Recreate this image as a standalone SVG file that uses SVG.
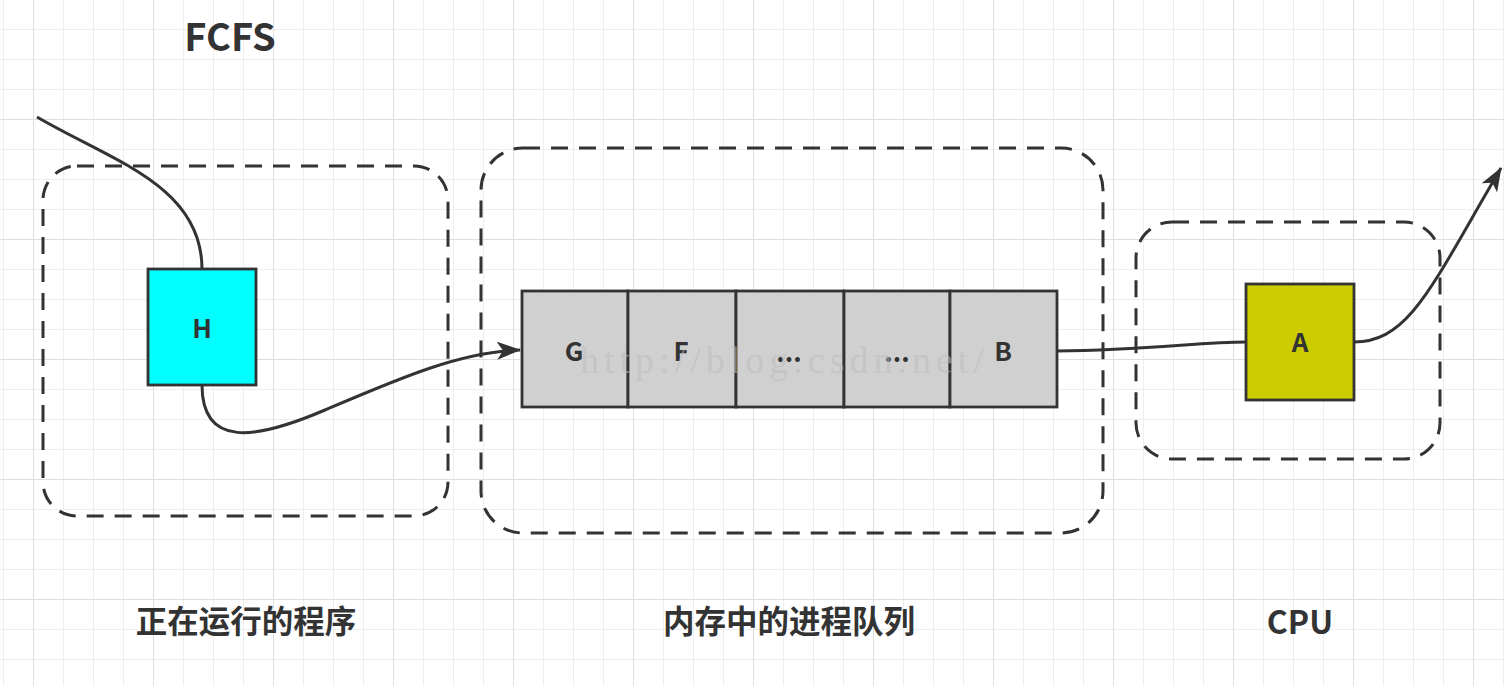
<svg xmlns="http://www.w3.org/2000/svg" width="1504" height="686" viewBox="0 0 1504 686">
<style>
.lbl{font-family:"Noto Sans CJK SC","Noto Sans",sans-serif;font-weight:700;fill:#333333}
.nodeTxt{font-family:"Noto Sans CJK SC","Noto Sans",sans-serif;font-weight:700;fill:#333333;font-size:26px;text-anchor:middle}
.group{fill:none;stroke:#333333;stroke-width:3;stroke-dasharray:17 11}
.box{stroke:#333333;stroke-width:2.8}
.edge{fill:none;stroke:#333333;stroke-width:3}
.wm{font-family:"Liberation Serif",serif;font-size:38px;fill:#bcbcbc;fill-opacity:0.55;letter-spacing:5px}
</style>
<defs>
<pattern id="minor" patternUnits="userSpaceOnUse" x="3" y="-1" width="30" height="30">
<path d="M0,0 V30 M0,0 H30" stroke="#e9e9e9" stroke-width="1.5" fill="none"/>
</pattern>
<pattern id="major" patternUnits="userSpaceOnUse" x="33" y="-1" width="120" height="120">
<path d="M0,0 V120 M0,0 H120" stroke="#dedede" stroke-width="1.8" fill="none"/>
</pattern>
<marker id="arrow" viewBox="0 0 24 18" refX="23" refY="9" markerWidth="24" markerHeight="18" markerUnits="userSpaceOnUse" orient="auto">
<path d="M0,0 L24,9 L0,18 L6,9 Z" fill="#333333"/>
</marker>
</defs>
<rect width="1504" height="686" fill="#ffffff"/>
<rect width="1504" height="686" fill="url(#minor)"/>
<rect width="1504" height="686" fill="url(#major)"/>

<text class="lbl" x="230" y="51" font-size="38" text-anchor="middle">FCFS</text>

<g id="group-running">
<rect class="group" x="43" y="166" width="405" height="350" rx="34" ry="34"/>
<text class="lbl" x="246" y="633" font-size="31.5" text-anchor="middle">正在运行的程序</text>
</g>
<g id="group-queue">
<rect class="group" x="481" y="148" width="622" height="385" rx="42" ry="42"/>
<text class="lbl" x="789" y="633" font-size="31.5" text-anchor="middle">内存中的进程队列</text>
</g>
<g id="group-cpu">
<rect class="group" x="1136" y="222" width="304" height="237" rx="36" ry="36"/>
<text class="lbl" x="1300" y="634" font-size="32" text-anchor="middle">CPU</text>
</g>

<g id="node-H">
<rect class="box" x="148" y="269" width="108" height="116" fill="#00ffff"/>
<text class="nodeTxt" x="202" y="338">H</text>
</g>
<g id="node-G">
<rect class="box" x="522" y="291" width="106" height="116" fill="#d0d0d0"/>
<text class="nodeTxt" x="574" y="361">G</text>
</g>
<g id="node-F">
<rect class="box" x="628" y="291" width="108" height="116" fill="#d0d0d0"/>
<text class="nodeTxt" x="681" y="361">F</text>
</g>
<g id="node-dots1">
<rect class="box" x="736" y="291" width="108" height="116" fill="#d0d0d0"/>
<text class="nodeTxt" x="789" y="362">...</text>
</g>
<g id="node-dots2">
<rect class="box" x="844" y="291" width="106" height="116" fill="#d0d0d0"/>
<text class="nodeTxt" x="897" y="362">...</text>
</g>
<g id="node-B">
<rect class="box" x="950" y="291" width="107" height="116" fill="#d0d0d0"/>
<text class="nodeTxt" x="1003" y="361">B</text>
</g>
<text class="wm" x="580" y="373">http://blog.csdn.net/</text>
<g id="node-A">
<rect class="box" x="1246" y="284" width="108" height="116" fill="#cccc00"/>
<text class="nodeTxt" x="1300" y="352">A</text>
</g>

<g id="connectors">
<path class="edge" d="M37,117 C110,160 202,185 202,269"/>
<path class="edge" d="M202,385 C202,448 255,440 325,410 C400,378 460,352 520,350" marker-end="url(#arrow)"/>
<path class="edge" d="M1057,351 C1150,350 1200,342 1246,342"/>
<path class="edge" d="M1354,342 C1410,342 1432,285 1501,168" marker-end="url(#arrow)"/>
</g>
</svg>
